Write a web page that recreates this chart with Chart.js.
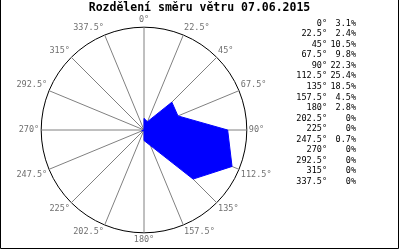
<!DOCTYPE html>
<html>
<head>
<meta charset="utf-8">
<script src="https://cdn.jsdelivr.net/npm/chart.js@4"></script>
<style>
  body { margin: 0; background: #fff; }
  canvas { display: block; }
</style>
</head>
<body>
<canvas id="windChart" width="400" height="250"></canvas>
<script>
// Směry (stupně) a podíl větru v procentech
const directions = ['0°', '22.5°', '45°', '67.5°', '90°', '112.5°', '135°', '157.5°',
                    '180°', '202.5°', '225°', '247.5°', '270°', '292.5°', '315°', '337.5°'];
const percents = [3.1, 2.4, 10.5, 9.8, 22.3, 25.4, 18.5, 4.5,
                  2.8, 0, 0, 0.7, 0, 0, 0, 0];
const chartTitle = 'Rozdělení směru větru 07.06.2015';
const scaleMax = 27.4;

// Nadpis přes celou šířku, rámeček a tabulka hodnot vpravo
const sidePanel = {
    id: 'sidePanel',
    afterDraw(chart) {
        const c = chart.ctx;
        c.save();
        c.strokeStyle = '#000';
        c.lineWidth = 1;
        c.beginPath();
        c.moveTo(0.5, 0);
        c.lineTo(0.5, 248.5);
        c.lineTo(398.5, 248.5);
        c.lineTo(398.5, 0);
        c.stroke();

        c.fillStyle = '#000';
        c.textBaseline = 'middle';
        c.textAlign = 'center';
        c.font = 'bold 11.5px "DejaVu Sans Mono"';
        c.fillText(chartTitle, 199.5, 8);

        c.font = '8.5px "DejaVu Sans Mono"';
        c.textAlign = 'right';
        directions.forEach((d, i) => {
            const y = 23.5 + i * 10.55;
            const p = percents[i] === 0 ? '0%' : percents[i].toFixed(1) + '%';
            c.fillText(d, 327, y);
            c.fillText(p, 356, y);
        });
        c.restore();
    }
};

const ctx = document.getElementById('windChart').getContext('2d');
const windChart = new Chart(ctx, {
    type: 'radar',
    data: {
        labels: directions,
        datasets: [{
            label: 'Vítr',
            data: percents,
            backgroundColor: 'rgb(0, 0, 255)',
            borderColor: 'rgb(0, 0, 255)',
            borderWidth: 1,
            pointRadius: 0,
            fill: true
        }]
    },
    options: {
        responsive: false,
        animation: false,
        layout: {
            padding: { left: 0, right: 112, top: 15, bottom: 4 }
        },
        plugins: {
            legend: { display: false },
            tooltip: { enabled: false },
            title: { display: false }
        },
        scales: {
            r: {
                min: 0,
                max: scaleMax,
                ticks: { display: false, stepSize: scaleMax },
                grid: { circular: true, color: '#000', lineWidth: 1 },
                angleLines: { color: '#808080', lineWidth: 1 },
                pointLabels: {
                    color: '#707070',
                    padding: 2,
                    font: { family: 'DejaVu Sans Mono', size: 8.5 }
                }
            }
        }
    },
    plugins: [sidePanel]
});
</script>
</body>
</html>
